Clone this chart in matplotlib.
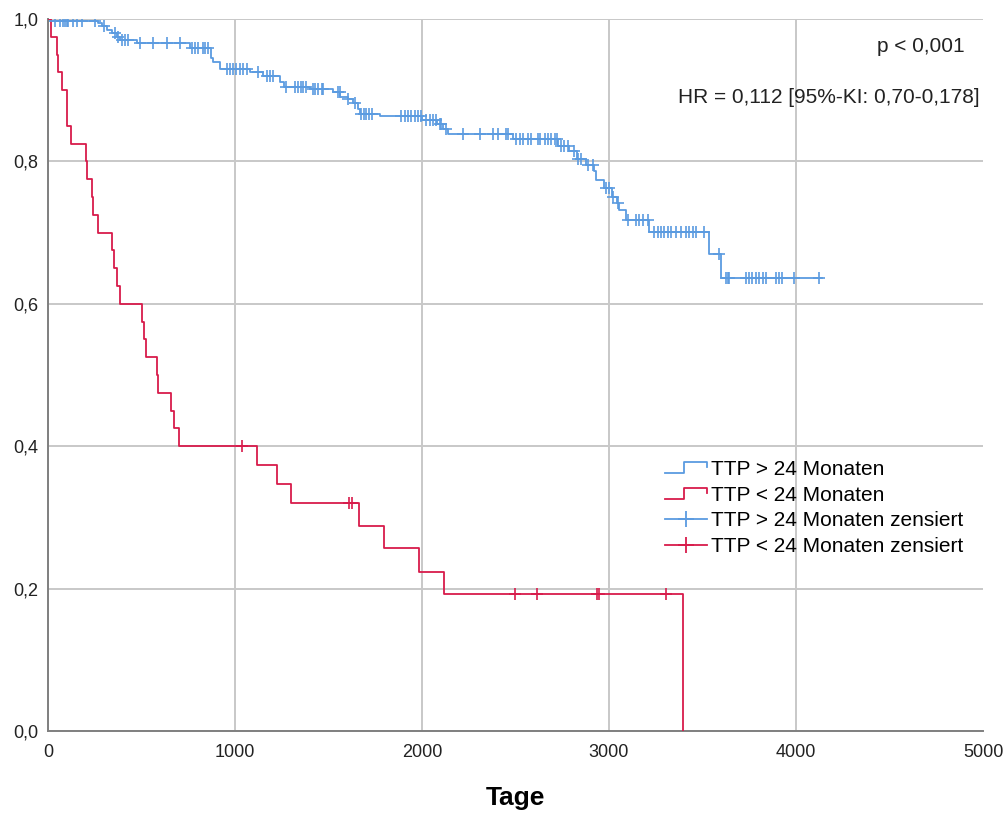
import numpy as np
import matplotlib
matplotlib.use('Agg')
import matplotlib.pyplot as plt
from matplotlib.lines import Line2D
from matplotlib.legend_handler import HandlerBase

plt.rcParams['font.family'] = ['Liberation Sans', 'DejaVu Sans']

# Kaplan-Meier curves (days, survival)
blue_t = [0, 12, 269, 288, 315, 342, 368, 386, 475, 760, 872, 884, 920,
          1080, 1150, 1240, 1262, 1401, 1523, 1561, 1603, 1630, 1657, 1667, 1774,
          2000, 2078, 2110, 2137, 2486, 2726, 2788, 2831, 2879, 2922, 2933, 2975,
          3018, 3045, 3056, 3093, 3216, 3536, 3598, 4140]
blue_s = [1.0, 0.997, 0.994, 0.990, 0.985, 0.980, 0.975, 0.971, 0.966, 0.959, 0.945, 0.940, 0.930,
          0.925, 0.920, 0.912, 0.905, 0.902, 0.898, 0.891, 0.888, 0.882, 0.874, 0.867, 0.864,
          0.858, 0.853, 0.846, 0.839, 0.832, 0.821, 0.814, 0.804, 0.795, 0.786, 0.774, 0.762,
          0.750, 0.741, 0.732, 0.718, 0.701, 0.670, 0.636, 0.636]
blue_cens = [39, 66, 82, 92, 100, 109, 135, 153, 180, 252, 297, 360, 375, 395, 410, 428,
             493, 563, 635, 706, 768, 786, 804, 831, 840, 858, 955, 973, 991, 1008, 1026,
             1044, 1062, 1124, 1169, 1187, 1205, 1275, 1320, 1337, 1355, 1365, 1382, 1418,
             1426, 1445, 1463, 1472, 1551, 1560, 1605, 1641, 1676, 1690, 1703, 1716, 1730,
             1890, 1908, 1925, 1943, 1961, 1979, 1997, 2023, 2041, 2059, 2077, 2094, 2103,
             2130, 2219, 2308, 2379, 2406, 2450, 2459, 2504, 2522, 2540, 2566, 2584, 2620,
             2629, 2656, 2673, 2691, 2709, 2720, 2744, 2762, 2780, 2815, 2833, 2851, 2886,
             2915, 2984, 3002, 3020, 3050, 3100, 3144, 3162, 3180, 3207, 3242, 3260, 3278,
             3296, 3313, 3331, 3358, 3385, 3411, 3429, 3447, 3465, 3509, 3589, 3625, 3634,
             3643, 3732, 3750, 3767, 3785, 3803, 3821, 3838, 3892, 3910, 3927, 3990, 4123]

red_t = [0, 16, 46, 55, 73, 99, 104, 123, 203, 210, 237, 242, 267, 342, 354, 368, 384,
         503, 516, 523, 582, 588, 659, 675, 701, 1116, 1222, 1302, 1664, 1799, 1982, 2118, 3397]
red_s = [1.0, 0.975, 0.95, 0.925, 0.9, 0.875, 0.85, 0.825, 0.8, 0.775, 0.75, 0.725, 0.7,
         0.675, 0.65, 0.625, 0.6, 0.575, 0.55, 0.525, 0.5, 0.475, 0.45, 0.425, 0.4,
         0.373, 0.347, 0.32, 0.288, 0.257, 0.224, 0.193, 0.0]
red_cens = [1035, 1612, 1625, 2495, 2614, 2937, 2945, 3305]

labels = ['TTP > 24 Monaten', 'TTP < 24 Monaten',
          'TTP > 24 Monaten zensiert', 'TTP < 24 Monaten zensiert']
xticks = [0, 1000, 2000, 3000, 4000, 5000]
yticks = [0.0, 0.2, 0.4, 0.6, 0.8, 1.0]
ytick_labels = ['0,0', '0,2', '0,4', '0,6', '0,8', '1,0']

blue = '#5b9be0'
red = '#d81b4b'


def surv_at(times, vals, c):
    i = np.searchsorted(times, c, side='right') - 1
    return np.array(vals)[i]


class StepHandler(HandlerBase):
    def create_artists(self, legend, orig_handle, xdescent, ydescent,
                       width, height, fontsize, trans):
        xs = np.array([0, 0.45, 0.45, 1.0, 1.0]) * width - xdescent
        ys = np.array([0.1, 0.1, 0.85, 0.85, 0.5]) * height - ydescent
        ln = Line2D(xs, ys, color=orig_handle.get_color(), lw=1.3)
        ln.set_transform(trans)
        return [ln]


fig = plt.figure(figsize=(10.08, 8.13), dpi=100)
ax = fig.add_axes([48 / 1008, 1 - 731 / 813, 935 / 1008, 712 / 813])

l1, = ax.step(blue_t, blue_s, where='post', color=blue, lw=1.3, zorder=3)
l2, = ax.step(red_t, red_s, where='post', color=red, lw=1.3, zorder=3)

bc = np.array(blue_cens)
rc = np.array(red_cens)
ax.plot(bc, surv_at(blue_t, blue_s, bc), '+', color=blue, ms=9, mew=1.2, zorder=4)
ax.plot(rc, surv_at(red_t, red_s, rc), '+', color=red, ms=9, mew=1.2, zorder=4)

ax.set_xlim(0, 5000)
ax.set_ylim(0, 1.0)
ax.set_xticks(xticks)
ax.set_yticks(yticks)
ax.set_yticklabels(ytick_labels)
ax.tick_params(length=0, labelsize=13, colors='#222222')
ax.tick_params(axis='x', pad=9)
ax.tick_params(axis='y', pad=7)
ax.grid(True, color='#c8c8c8', lw=1.4, zorder=0)
ax.set_axisbelow(True)
ax.get_xgridlines()[-1].set_visible(False)
for s in ['top', 'right']:
    ax.spines[s].set_visible(False)
for s in ['left', 'bottom']:
    ax.spines[s].set_color('#7f7f7f')
    ax.spines[s].set_linewidth(1.4)

ax.set_xlabel('Tage', fontsize=19, fontweight='bold', labelpad=18)

ax.text(0.9807, 0.9607, 'p < 0,001', transform=ax.transAxes, ha='right', va='center',
        fontsize=15, color='#222222')
ax.text(0.9968, 0.89, 'HR = 0,112 [95%-KI: 0,70-0,178]', transform=ax.transAxes,
        ha='right', va='center', fontsize=15, color='#222222')

# legend proxies: censored entries show a line with a cross
h3 = Line2D([], [], color=blue, lw=1.3, marker='+', ms=12, mew=1.3)
h4 = Line2D([], [], color=red, lw=1.3, marker='+', ms=12, mew=1.3)
ax.legend([l1, l2, h3, h4], labels, loc='upper left', bbox_to_anchor=(0.66, 0.381),
          frameon=False, fontsize=15, borderpad=0, borderaxespad=0,
          handlelength=2.0, handletextpad=0.2, labelspacing=0.33,
          handler_map={l1: StepHandler(), l2: StepHandler()})

fig.savefig('out.png', dpi=100)
